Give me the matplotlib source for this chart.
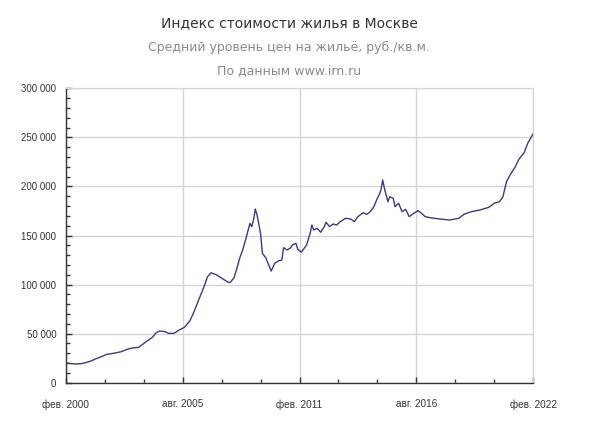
import matplotlib
matplotlib.use("Agg")
import matplotlib.pyplot as plt
from matplotlib.ticker import MultipleLocator, FixedLocator, FuncFormatter

# Months counted from Feb 2000
months = [0, 3, 6, 9, 11, 14, 17, 20, 23, 27, 31, 35, 38, 41, 44, 47, 49, 51, 53, 56,
          58, 61, 64, 67, 70, 72, 75, 78, 80, 82, 85, 89, 92, 93, 95, 97, 98, 100, 102, 104, 105,
          106, 107, 108, 110, 111, 113, 115, 116, 118, 120, 122, 123, 125, 127, 128, 130, 131, 133, 136, 138,
          139, 140, 142, 144, 146, 147, 149, 151, 153, 155, 158, 161, 163, 165, 168, 170, 172, 174, 176, 177,
          178, 179, 180, 182, 183, 185, 186, 188, 190, 192, 194, 196, 199, 201, 203, 206, 210, 213, 217, 222,
          225, 229, 234, 239, 242, 245, 247, 249, 251, 254, 256, 259, 261, 264]
prices = [20000, 19500, 19000, 19500, 20400, 22000, 24500, 26500, 28900, 30000, 31500, 34300, 35500, 36000, 40000, 44000, 46500, 51000, 52700, 52000,
          50300, 50300, 53700, 56500, 63000, 70700, 84300, 97800, 108000, 112000, 110000, 105400, 102000, 102500, 107000, 119000, 126000, 136000, 148800, 162400, 159000,
          165800, 177000, 171000, 152000, 132000, 127000, 118200, 113800, 121700, 124000, 125000, 137600, 135200, 137500, 140300, 142000, 136000, 132900, 140300, 152200,
          160700, 155600, 157300, 153300, 159000, 163500, 159000, 161700, 160700, 164100, 167500, 166800, 164100, 169200, 173200, 171600, 174200, 179300, 187900, 191300,
          196000, 206600, 198100, 184400, 189500, 187900, 179300, 182800, 174200, 176700, 169200, 171900, 175300, 172600, 169200, 168100, 167100, 166500, 165800, 167500,
          171600, 174200, 176000, 178700, 182800, 184400, 189500, 204800, 211600, 220100, 227600, 234400, 243900, 253400]

x_tick_months = [0, 66, 132, 198, 264]
x_tick_labels = ["фев. 2000", "авг. 2005", "фев. 2011", "авг. 2016", "фев. 2022"]

title = "Индекс стоимости жилья в Москве"
subtitle = "Средний уровень цен на жильё, руб./кв.м."
source = "По данным www.irn.ru"

fig = plt.figure(figsize=(5.9, 4.32), dpi=100)
ax = fig.add_axes([66/590, 1 - 382.7/432, 467/590, 294.4/432])

ax.plot(months, prices, color="#3a3a80", linewidth=1.0)

ax.set_xlim(0, 264)
ax.set_ylim(0, 300000)

ax.xaxis.set_major_locator(FixedLocator(x_tick_months))
ax.set_xticklabels(x_tick_labels)
ax.xaxis.set_minor_locator(MultipleLocator(22))
ax.yaxis.set_major_locator(MultipleLocator(50000))
ax.yaxis.set_minor_locator(MultipleLocator(10000))
ax.yaxis.set_major_formatter(FuncFormatter(lambda v, p: f"{int(v):,}".replace(",", " ")))

ax.grid(True, which="major", color="#d4d4d4", linewidth=1.0)
ax.set_axisbelow(True)

for s in ["top", "right"]:
    ax.spines[s].set_color("#d4d4d4")
for s in ["left", "bottom"]:
    ax.spines[s].set_color("#333333")
    ax.spines[s].set_linewidth(1.0)

ax.tick_params(axis="both", which="both", direction="in", color="#333333")
ax.tick_params(axis="both", which="major", length=4, width=1)
ax.tick_params(axis="both", which="minor", length=3, width=1)
ax.tick_params(axis="x", which="major", pad=12, labelsize=7.2, labelcolor="#333333")
ax.tick_params(axis="y", which="major", pad=7, labelsize=7, labelcolor="#333333")
for lab in ax.get_xticklabels() + ax.get_yticklabels():
    lab.set_family("Liberation Sans")

fig.text(0.49, 1 - 23/432, title, ha="center", va="center", fontsize=10, color="#333333", family="DejaVu Sans")
fig.text(0.49, 1 - 47/432, subtitle, ha="center", va="center", fontsize=9, color="#8a8a8a", family="DejaVu Sans")
fig.text(0.49, 1 - 71/432, source, ha="center", va="center", fontsize=9, color="#8a8a8a", family="DejaVu Sans")

fig.savefig("out.png", dpi=100, facecolor="white")
